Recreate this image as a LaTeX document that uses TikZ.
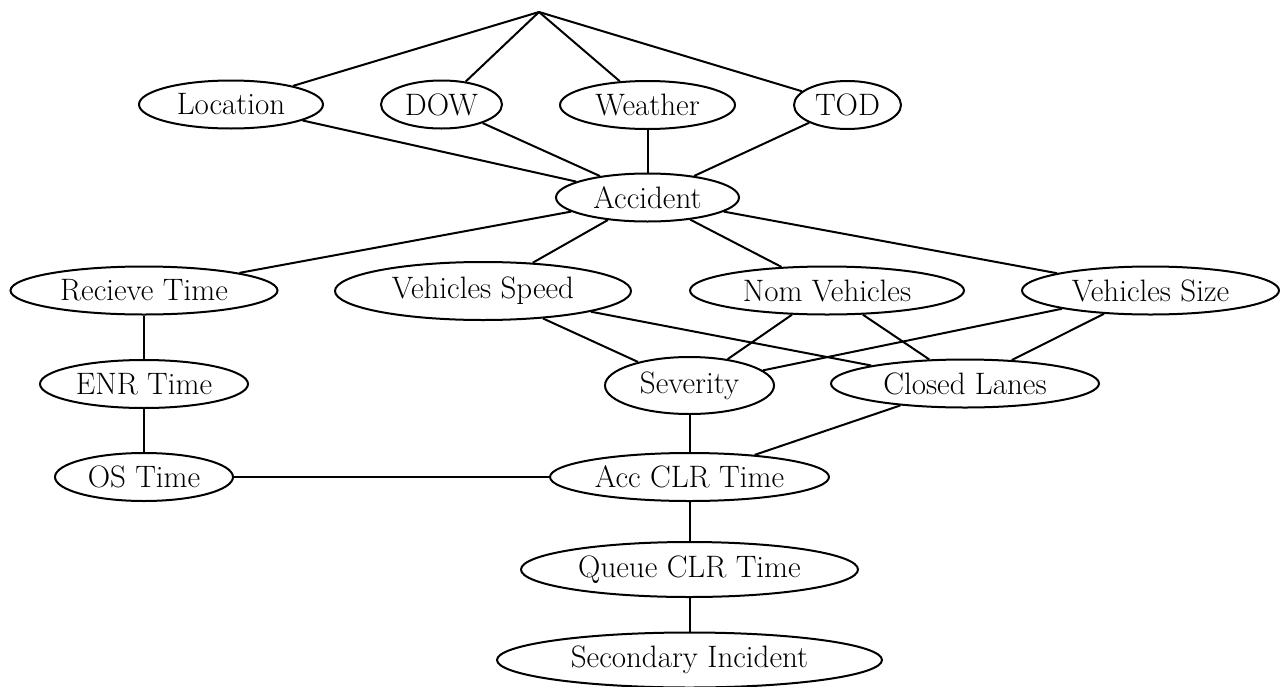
\documentclass[tikz,border=0pt]{standalone}
\usetikzlibrary{shapes.geometric}

\tikzset{
  var/.style = {ellipse, draw, line width = 1pt, inner sep = 0pt,
    minimum height = 24pt, font = \fontsize{15.5}{18}\selectfont},
  link/.style = {line width = 1pt}
}

\begin{document}
\begin{tikzpicture}[x = 0.5pt, y = -0.5pt]

    \useasboundingbox (0, 0) rectangle (1286, 686);
    \coordinate (root) at (539, 12);

    % causes
    \node[var, minimum width = 92pt] (loc) at (231, 104.5) {Location};
    \node[var, minimum width = 60.5pt] (dow) at (441.5, 104.5) {DOW};
    \node[var, minimum width = 87.5pt] (wea) at (647.5, 105) {Weather};
    \node[var, minimum width = 53.5pt] (tod) at (847.5, 105) {TOD};
    \node[var, minimum width = 91.5pt] (acc) at (647.5, 197.5) {Accident};

    % second row
    \node[var, minimum width = 133.5pt] (rec) at (144, 290.5) {Recieve Time};
    \node[var, minimum width = 148pt, minimum height = 29pt] (vsp) at (483, 291) {Vehicles Speed};
    \node[var, minimum width = 137pt] (nom) at (827, 290.5) {Nom Vehicles};
    \node[var, minimum width = 128.5pt] (vsz) at (1150.5, 290.5) {Vehicles Size};

    \node[var, minimum width = 104pt] (enr) at (144, 384) {ENR Time};
    \node[var, minimum width = 84.5pt, minimum height = 28.5pt] (sev) at (689.5, 385.5) {Severity};
    \node[var, minimum width = 134pt] (cls) at (965, 383.5) {Closed Lanes};

    \node[var, minimum width = 89pt] (ost) at (144, 477) {OS Time};
    \node[var, minimum width = 139.5pt] (aclr) at (689.5, 477) {Acc CLR Time};
    \node[var, minimum width = 168.5pt, minimum height = 27.5pt] (qclr) at (689.5, 569.5) {Queue CLR Time};
    \node[var, minimum width = 192.5pt, minimum height = 27.5pt] (sec) at (689.5, 660) {Secondary Incident};

    % links
    \draw[link] (root) -- (loc);
    \draw[link] (root) -- (dow);
    \draw[link] (root) -- (wea);
    \draw[link] (root) -- (tod);
    \draw[link] (loc) -- (acc);
    \draw[link] (dow) -- (acc);
    \draw[link] (wea) -- (acc);
    \draw[link] (tod) -- (acc);
    \draw[link] (acc) -- (rec);
    \draw[link] (acc) -- (vsp);
    \draw[link] (acc) -- (nom);
    \draw[link] (acc) -- (vsz);
    \draw[link] (rec) -- (enr);
    \draw[link] (enr) -- (ost);
    \draw[link] (vsp) -- (sev);
    \draw[link] (vsp) -- (cls);
    \draw[link] (nom) -- (sev);
    \draw[link] (nom) -- (cls);
    \draw[link] (vsz) -- (sev);
    \draw[link] (vsz) -- (cls);
    \draw[link] (sev) -- (aclr);
    \draw[link] (cls) -- (aclr);
    \draw[link] (ost) -- (aclr);
    \draw[link] (aclr) -- (qclr);
    \draw[link] (qclr) -- (sec);

\end{tikzpicture}
\end{document}
